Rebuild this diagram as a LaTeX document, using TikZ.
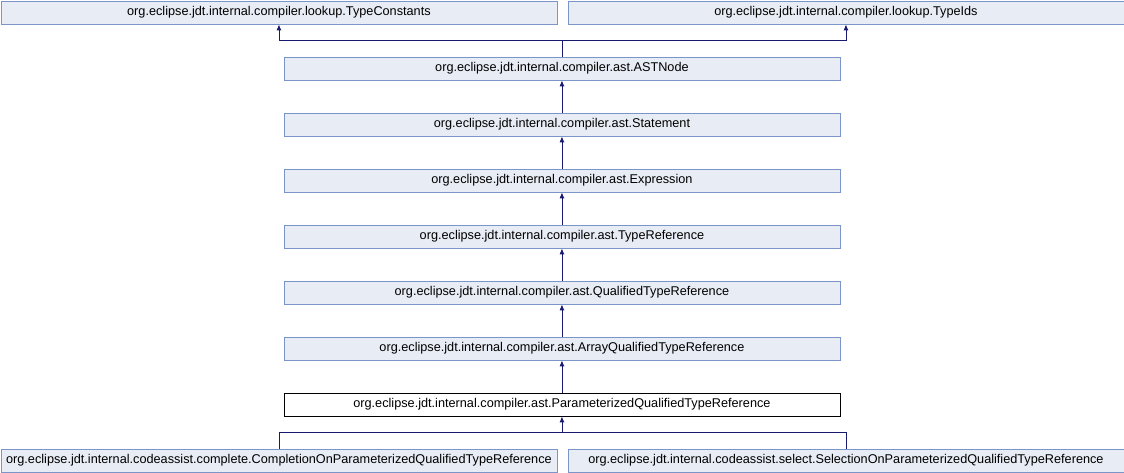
\documentclass[tikz,border=0pt]{standalone}
\usepackage{fontspec}
\setmainfont{Liberation Sans}
\usetikzlibrary{arrows.meta}
\definecolor{nodefill}{HTML}{E8ECF4}
\definecolor{nodeline}{HTML}{7C95C8}
\definecolor{edgecol}{HTML}{191970}
\begin{document}
\begin{tikzpicture}[x=1pt,y=-1pt,
  cls/.style={draw=nodeline,fill=nodefill,line width=0.9pt,minimum width=556pt,minimum height=23pt,inner sep=0pt,font=\fontsize{12.7}{14}\selectfont,anchor=north west},
  cur/.style={cls,draw=black,fill=white},
  inh/.style={draw=edgecol,line width=0.9pt,-{Latex[length=6pt,width=5pt]}}]
\useasboundingbox (0,0) rectangle (1124,472);
% base types
\node[cls] (tc) at (0.5,0.5) {org.eclipse.jdt.internal.compiler.lookup.TypeConstants};
\node[cls] (ti) at (567.5,0.5) {org.eclipse.jdt.internal.compiler.lookup.TypeIds};
% inheritance chain
\node[cls] (ast) at (283.5,56.5) {org.eclipse.jdt.internal.compiler.ast.ASTNode};
\node[cls] (st) at (283.5,112.5) {org.eclipse.jdt.internal.compiler.ast.Statement};
\node[cls] (ex) at (283.5,168.5) {org.eclipse.jdt.internal.compiler.ast.Expression};
\node[cls] (tr) at (283.5,224.5) {org.eclipse.jdt.internal.compiler.ast.TypeReference};
\node[cls] (qtr) at (283.5,280.5) {org.eclipse.jdt.internal.compiler.ast.QualifiedTypeReference};
\node[cls] (aqtr) at (283.5,336.5) {org.eclipse.jdt.internal.compiler.ast.ArrayQualifiedTypeReference};
\node[cur] (pqtr) at (283.5,392.5) {org.eclipse.jdt.internal.compiler.ast.ParameterizedQualifiedTypeReference};
% subclasses
\node[cls] (comp) at (0.5,448.5) {org.eclipse.jdt.internal.codeassist.complete.CompletionOnParameterizedQualifiedTypeReference};
\node[cls] (sel) at (567.5,448.5) {org.eclipse.jdt.internal.codeassist.select.SelectionOnParameterizedQualifiedTypeReference};
% connectors
\path (ast.north) ++(0,-16.5) coordinate (j1);
\draw[inh] (ast.north) -- (j1) -| (tc.south);
\draw[inh] (j1) -| (ti.south);
\draw[inh] (st) -- (ast);
\draw[inh] (ex) -- (st);
\draw[inh] (tr) -- (ex);
\draw[inh] (qtr) -- (tr);
\draw[inh] (aqtr) -- (qtr);
\draw[inh] (pqtr) -- (aqtr);
\path (pqtr.south) ++(0,16.5) coordinate (j2);
\draw[inh] (comp.north) |- (j2) -- (pqtr.south);
\draw[edgecol,line width=0.9pt] (sel.north) |- (j2);
\end{tikzpicture}
\end{document}
